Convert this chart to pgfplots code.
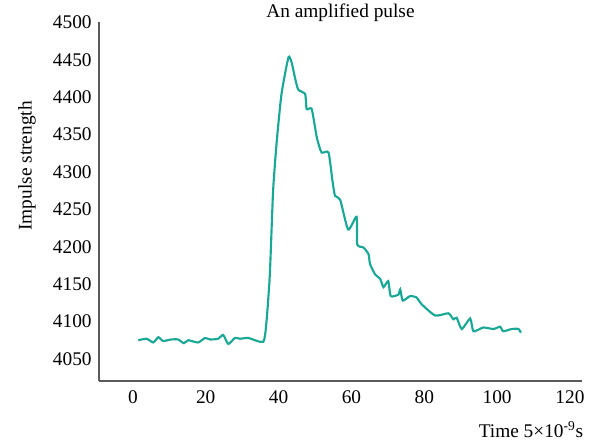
\documentclass[border=0pt]{standalone}
\usepackage{pgfplots}
\pgfplotsset{compat=1.18}
\usepackage{fontspec}
\setmainfont{Liberation Serif}
\definecolor{pulse}{RGB}{26,168,150}
\definecolor{spine}{RGB}{90,90,90}
\begin{document}
\begin{tikzpicture}[x=0.75pt,y=0.75pt]
\begin{axis}[
    scale only axis,
    width=362.25pt, height=269pt,
    xmin=-9.3, xmax=123.3,
    ymin=4020.5, ymax=4500,
    axis x line*=bottom, axis y line*=left,
    axis line style={spine, line width=0.8pt},
    major tick length=0pt,
    xtick={0,20,...,120},
    ytick={4050,4100,...,4500},
    font=\fontsize{14.5}{17}\selectfont,
    /pgf/number format/assume math mode=true,
    /pgf/number format/1000 sep={},
    xticklabel style={yshift=-4pt},
    yticklabel style={xshift=-2pt},
    title={An amplified pulse},
    title style={at={(axis description cs:0.5,1)}, anchor=south, yshift=-9pt},
    ylabel={Impulse strength},
    ylabel style={at={(axis description cs:-0.149,0.60)}, anchor=center},
    xlabel={Time 5×10\textsuperscript{-9}s},
    xlabel style={at={(axis description cs:1.012,-0.135)}, anchor=east},
    clip=false,
]
\addplot[pulse, line width=1.6pt, smooth, tension=0.35] coordinates {
(1.5,4075) (3.8,4077) (5.6,4072) (7,4079) (8.3,4074) (10.5,4076) (12.4,4076)
(14,4071) (15.2,4075) (17.9,4072) (19.8,4078) (21.2,4076) (23.4,4077)
(24.8,4082) (26.2,4070) (28,4078) (29.4,4077) (31.7,4078) (35.8,4073)
(36.7,4101) (37.6,4163) (38.5,4275) (39.5,4341) (40.8,4404) (42.7,4453)
(43.6,4446) (44.5,4426) (45.4,4410) (47.3,4404) (47.7,4384) (49.1,4384)
(50.5,4346) (51.8,4326) (53.7,4326) (54.8,4288) (55.5,4268) (56.9,4263)
(59.1,4223) (61.4,4240) (61.6,4203) (63.3,4199) (64.7,4190) (65.1,4177)
(66.5,4163) (67.9,4157) (68.8,4146) (70.1,4154) (70.8,4134) (72.9,4136)
(73.4,4143) (74.1,4128) (76.1,4134) (77.9,4132) (79.3,4123) (83,4108)
(86.6,4111) (88,4103) (88.9,4105) (90.3,4090) (92.6,4104) (93.5,4087)
(96.2,4092) (99,4090) (100.8,4093) (101.7,4087) (104,4090) (105.9,4090)
(106.5,4085)
};
\end{axis}
\pgfresetboundingbox
\path[use as bounding box] (current axis.south west) ++(-99,-61) rectangle ++(596,442);
\end{tikzpicture}
\end{document}
